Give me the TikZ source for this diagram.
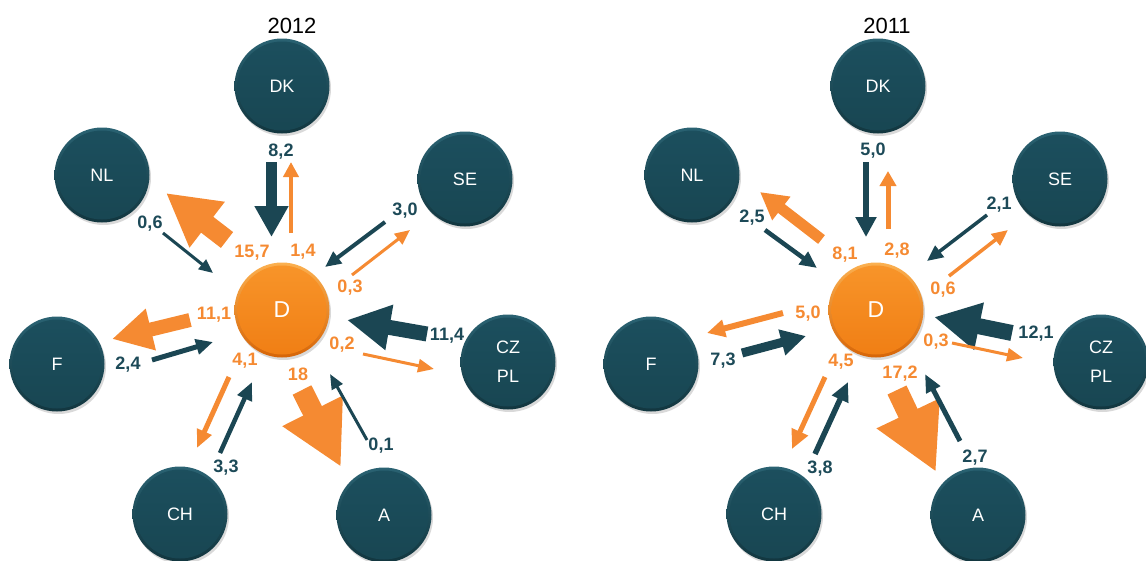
\documentclass[tikz,border=0pt]{standalone}
\usepackage{fontspec}
\setmainfont{Liberation Sans}
\usetikzlibrary{arrows.meta,shadows}
\definecolor{tealtop}{HTML}{2A6272}
\definecolor{tealbot}{HTML}{12363F}
\definecolor{tealin}{HTML}{1C4F5E}
\definecolor{tealin2}{HTML}{184652}
\definecolor{numdark}{HTML}{1D4A58}
\definecolor{arrdark}{HTML}{1B4653}
\definecolor{arrorange}{HTML}{F58A32}
\definecolor{numorange}{HTML}{F58A32}
\definecolor{ortop}{HTML}{FBB050}
\definecolor{orbot}{HTML}{D66508}
\definecolor{orin}{HTML}{F8952A}
\definecolor{orin2}{HTML}{F07E14}
\tikzset{
  country/.style={circle, minimum size=95pt, inner sep=0pt,
    top color=tealtop, bottom color=tealbot,
    path picture={\shade[top color=tealin, bottom color=tealin2]
      (path picture bounding box.center) circle (44.5pt);},
    text=white, font=\fontsize{18}{29}\selectfont, align=center,
    drop shadow={opacity=0.3, shadow xshift=1.5pt, shadow yshift=-2.5pt}},
  hub/.style={circle, minimum size=95pt, inner sep=0pt,
    top color=ortop, bottom color=orbot,
    path picture={\shade[top color=orin, bottom color=orin2]
      (path picture bounding box.center) circle (44.5pt);},
    text=white, font=\fontsize{23}{25}\selectfont,
    drop shadow={opacity=0.3, shadow xshift=1.5pt, shadow yshift=-2.5pt}},
  numd/.style={text=numdark, inner sep=0pt, font=\bfseries\fontsize{18}{20}\selectfont},
  numo/.style={text=numorange, inner sep=0pt, font=\bfseries\fontsize{18}{20}\selectfont},
  title/.style={text=black, inner sep=0pt, font=\fontsize{22}{24}\selectfont},
}
% name, colour, start, end, shaft width, head width, head length
\newcommand\flow[7]{%
  \coordinate (#1-s) at (#3);
  \coordinate (#1-e) at (#4);
  \draw[draw=#2, line width=#5pt, line cap=butt,
        -{Triangle[width=#6pt,length=#7pt]}] (#1-s) -- (#1-e);}
\begin{document}
\begin{tikzpicture}[x=1pt,y=-1pt]
\useasboundingbox (0,0) rectangle (1146,560);
% ---------- 2012 ----------
\node[title] (t2012) at (292,26) {2012};
\node[hub] (D1) at (282,310) {D};
\node[country] (DK1) at (282,86) {DK};
\node[country] (NL1) at (102,175) {NL};
\node[country] (SE1) at (465,179) {SE};
\node[country] (F1) at (57,364) {F};
\node[country] (CZ1) at (508,362) {CZ\\PL};
\node[country] (CH1) at (180,514) {CH};
\node[country] (A1) at (384,515) {A};

\flow{a1}{arrdark}{271.5,162}{271.5,237}{11}{32}{31}
\flow{a2}{arrorange}{291,233}{291,162}{4}{15}{15}
\flow{a3}{arrorange}{227,240}{166,193}{20}{54}{52}
\flow{a4}{arrdark}{163,233}{213,273}{3}{12}{14}
\flow{a5}{arrdark}{385,222}{325,267}{4}{14}{16}
\flow{a6}{arrorange}{352,275}{410,230}{3}{13}{15}
\flow{a7}{arrorange}{190,320}{112,339}{14}{40}{40}
\flow{a8}{arrdark}{152,360}{213,342}{5}{15}{17}
\flow{a9}{arrorange}{229,377}{197,448}{5}{15}{18}
\flow{a10}{arrdark}{220,453}{252,382}{4.5}{15}{18}
\flow{a11}{arrdark}{427,334}{347,320}{15}{43}{43}
\flow{a12}{arrorange}{363,354}{434,369}{3}{13}{16}
\flow{a13}{arrorange}{302,390}{341,467}{21}{63}{63}
\flow{a14}{arrdark}{367,440}{330,374}{3}{12}{15}

\node[numd] (l1) at (281,152) {8,2};
\node[numo] (l2) at (303,252) {1,4};
\node[numo] (l3) at (252,253) {15,7};
\node[numd] (l4) at (150,224) {0,6};
\node[numd] (l5) at (405,211) {3,0};
\node[numo] (l6) at (350,288) {0,3};
\node[numo] (l7) at (214,315) {11,1};
\node[numd] (l8) at (128,365) {2,4};
\node[numo] (l9) at (245,361) {4,1};
\node[numd] (l10) at (226,468) {3,3};
\node[numd] (l11) at (447,336) {11,4};
\node[numo] (l12) at (342,345) {0,2};
\node[numo] (l13) at (298,374) {18};
\node[numd] (l14) at (381,446) {0,1};

% ---------- 2011 ----------
\node[title] (t2011) at (887,26) {2011};
\node[hub] (D2) at (876,310) {D};
\node[country] (DK2) at (878,86) {DK};
\node[country] (NL2) at (692,175) {NL};
\node[country] (SE2) at (1060,179) {SE};
\node[country] (F2) at (651,364) {F};
\node[country] (CZ2) at (1101,362) {CZ\\PL};
\node[country] (CH2) at (774,514) {CH};
\node[country] (A2) at (978,515) {A};

\flow{b1}{arrdark}{866,162}{866,237}{6.5}{20}{20}
\flow{b2}{arrorange}{888,229}{888,171}{5}{16}{15}
\flow{b3}{arrorange}{821.5,239.5}{760,192}{11}{28}{27}
\flow{b4}{arrdark}{765,230}{817,268}{4.5}{15}{17}
\flow{b5}{arrdark}{987,215}{927,261}{3.5}{14}{16}
\flow{b6}{arrorange}{949,276}{1008,230}{3.5}{14}{16}
\flow{b7}{arrorange}{783,313}{707,333}{6}{17}{18}
\flow{b8}{arrdark}{742,353}{806,336}{9}{25}{25}
\flow{b9}{arrorange}{825,377}{792,449}{5}{17}{19}
\flow{b10}{arrdark}{815,454}{848,382}{5.5}{17}{19}
\flow{b11}{arrdark}{1012,333}{934,317}{16}{45}{46}
\flow{b12}{arrorange}{952,343}{1023,358}{3}{13}{16}
\flow{b13}{arrorange}{897,390}{936,472}{21}{65}{65}
\flow{b14}{arrdark}{960,441}{925,374}{5}{15}{18}

\node[numd] (m1) at (873,151) {5,0};
\node[numo] (m2) at (897,251) {2,8};
\node[numo] (m3) at (845,255) {8,1};
\node[numd] (m4) at (752,218) {2,5};
\node[numd] (m5) at (999,205) {2,1};
\node[numo] (m6) at (943,290) {0,6};
\node[numo] (m7) at (808,314) {5,0};
\node[numd] (m8) at (723,361) {7,3};
\node[numo] (m9) at (841,362) {4,5};
\node[numd] (m10) at (820,469) {3,8};
\node[numd] (m11) at (1036,334) {12,1};
\node[numo] (m12) at (936,342) {0,3};
\node[numo] (m13) at (900,374) {17,2};
\node[numd] (m14) at (975,458) {2,7};
\end{tikzpicture}
\end{document}
